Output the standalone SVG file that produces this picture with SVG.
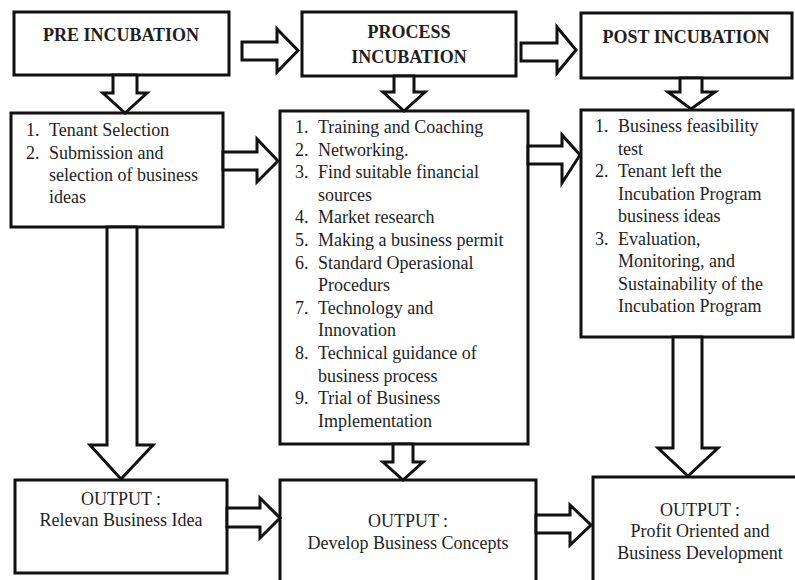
<svg xmlns="http://www.w3.org/2000/svg" width="795" height="580" viewBox="0 0 795 580">
  <style>
    .box { fill: #ffffff; stroke: #111111; stroke-width: 3; }
    .arrow { fill: #ffffff; stroke: #111111; stroke-width: 3; stroke-linejoin: miter; }
    text { font-family: "Liberation Serif", "Times New Roman", serif; font-size: 18px; fill: #1e1e1e; }
    .head { font-weight: bold; text-anchor: middle; }
    .mid { text-anchor: middle; }
  </style>
  <rect width="795" height="580" fill="#ffffff"/>

  <!-- stage headers -->
  <g id="pre-incubation">
    <rect class="box" x="14" y="12" width="215" height="63"/>
    <text class="head" x="121" y="41">PRE INCUBATION</text>
  </g>
  <g id="process-incubation">
    <rect class="box" x="302" y="12" width="214" height="64"/>
    <text class="head" x="409" y="38">PROCESS</text>
    <text class="head" x="409" y="63">INCUBATION</text>
  </g>
  <g id="post-incubation">
    <rect class="box" x="581" y="13" width="211" height="65"/>
    <text class="head" x="686" y="43">POST INCUBATION</text>
  </g>

  <!-- activity lists -->
  <g id="pre-activities">
    <rect class="box" x="11" y="113" width="212" height="114"/>
    <text x="26" y="136">1.</text><text x="49" y="136">Tenant Selection</text>
    <text x="26" y="159">2.</text><text x="49" y="159">Submission and</text>
    <text x="49" y="181">selection of business</text>
    <text x="49" y="203">ideas</text>
  </g>
  <g id="process-activities">
    <rect class="box" x="280" y="111" width="248" height="333"/>
    <text x="295" y="133">1.</text><text x="318" y="133">Training and Coaching</text>
    <text x="295" y="155.6">2.</text><text x="318" y="155.6">Networking.</text>
    <text x="295" y="178.2">3.</text><text x="318" y="178.2">Find suitable financial</text>
    <text x="318" y="200.8">sources</text>
    <text x="295" y="223.4">4.</text><text x="318" y="223.4">Market research</text>
    <text x="295" y="246">5.</text><text x="318" y="246">Making a business permit</text>
    <text x="295" y="268.6">6.</text><text x="318" y="268.6">Standard Operasional</text>
    <text x="318" y="291.2">Procedurs</text>
    <text x="295" y="313.8">7.</text><text x="318" y="313.8">Technology and</text>
    <text x="318" y="336.4">Innovation</text>
    <text x="295" y="359">8.</text><text x="318" y="359">Technical guidance of</text>
    <text x="318" y="381.6">business process</text>
    <text x="295" y="404.2">9.</text><text x="318" y="404.2">Trial of Business</text>
    <text x="318" y="426.8">Implementation</text>
  </g>
  <g id="post-activities">
    <rect class="box" x="581" y="110" width="212" height="227"/>
    <text x="595" y="132">1.</text><text x="618" y="132">Business feasibility</text>
    <text x="618" y="154.5">test</text>
    <text x="595" y="177">2.</text><text x="618" y="177">Tenant left the</text>
    <text x="618" y="199.5">Incubation Program</text>
    <text x="618" y="222">business ideas</text>
    <text x="595" y="244.5">3.</text><text x="618" y="244.5">Evaluation,</text>
    <text x="618" y="267">Monitoring, and</text>
    <text x="618" y="289.5">Sustainability of the</text>
    <text x="618" y="312">Incubation Program</text>
  </g>

  <!-- outputs -->
  <g id="output-idea">
    <rect class="box" x="15" y="480" width="212" height="93"/>
    <text class="mid" x="121" y="505">OUTPUT :</text>
    <text class="mid" x="121" y="526">Relevan Business Idea</text>
  </g>
  <g id="output-concepts">
    <rect class="box" x="280" y="480" width="256" height="120"/>
    <text class="mid" x="408" y="527">OUTPUT :</text>
    <text class="mid" x="408" y="549">Develop Business Concepts</text>
  </g>
  <g id="output-profit">
    <rect class="box" x="593" y="477" width="220" height="120"/>
    <text class="mid" x="700" y="516">OUTPUT :</text>
    <text class="mid" x="700" y="537">Profit Oriented and</text>
    <text class="mid" x="700" y="559">Business Development</text>
  </g>

  <!-- block arrows between stages -->
  <g id="connectors">
    <polygon class="arrow" points="242,42 277,42 277,29 298,50.5 277,72 277,60 242,60"/>
    <polygon class="arrow" points="521,43 557,43 557,27 576,50 557,73 557,61 521,61"/>
    <polygon class="arrow" points="223,152 257,152 257,139 278,161 257,182 257,170 223,170"/>
    <polygon class="arrow" points="528,146 562,146 562,135 580,155 562,183 562,164 528,164"/>
    <polygon class="arrow" points="227,508 260,508 260,498 280,518 260,538 260,527 227,527"/>
    <polygon class="arrow" points="536,515 570,515 570,505 591,525 570,545 570,533 536,533"/>

    <polygon class="arrow" points="113,75 113,93 103,93 125,113 147,93 137,93 137,75"/>
    <polygon class="arrow" points="394,76 394,92 383,92 404,111 425,92 414,92 414,76"/>
    <polygon class="arrow" points="680,78 680,92 668,92 691,109 715,92 702,92 702,78"/>
    <polygon class="arrow" points="107,227 107,445 90,445 121,479 153,445 137,445 137,227"/>
    <polygon class="arrow" points="393,444 393,462 383,462 403,480 423,462 413,462 413,444"/>
    <polygon class="arrow" points="673,337 673,448 658,448 688,476 718,448 702,448 702,337"/>
  </g>
</svg>
